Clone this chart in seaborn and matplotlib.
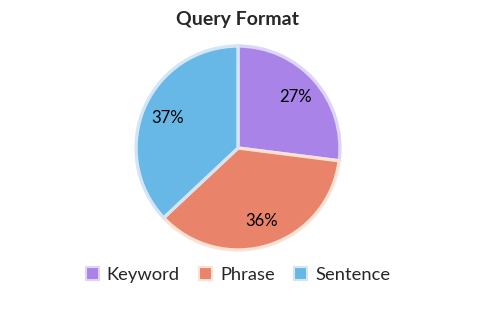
import matplotlib
matplotlib.use("Agg")
import matplotlib.pyplot as plt
from matplotlib.patches import Patch
import seaborn as sns

categories = ["Keyword", "Phrase", "Sentence"]
values = [27, 36, 37]
colors = ["#A983E8", "#E9846A", "#67B8E6"]
edge_colors = ["#DCD5F6", "#FBE2D5", "#D5E5F4"]

sns.set_theme(style="white")
plt.rcParams['font.family'] = ['Lato', 'DejaVu Sans']

W, H = 478, 320
fig = plt.figure(figsize=(W/100, H/100), dpi=100)
cx, cy, r = 238, 148, 104
ax = fig.add_axes([(cx - r)/W, (H - cy - r)/H, 2*r/W, 2*r/H])
pal = sns.color_palette(colors)
wedges, texts, autotexts = ax.pie(
    values, colors=pal, startangle=90, counterclock=False,
    autopct=lambda p: f"{p:.0f}%", pctdistance=0.75,
    wedgeprops=dict(linewidth=0, edgecolor="white"),
    textprops=dict(fontsize=12, color="black"))
for w, ec in zip(wedges, edge_colors):
    w.set_edgecolor(ec)
    w.set_linewidth(2.4)
ax.set_xlim(-1.02, 1.02)
ax.set_ylim(-1.02, 1.02)
ax.axis("off")

fig.text(cx/W, 1 - 20/H, "Query Format", ha="center", va="center",
         fontsize=14, fontweight="bold")

handles = [Patch(facecolor=c, edgecolor=e, linewidth=1.5) for c, e in zip(colors, edge_colors)]
fig.legend(handles, categories, loc="center", bbox_to_anchor=(cx/W, 1 - 275/H),
           ncol=3, frameon=False, fontsize=13.2, handlelength=0.7, handleheight=0.7,
           handletextpad=0.45, columnspacing=1.05)

fig.savefig("out.png", dpi=100)
